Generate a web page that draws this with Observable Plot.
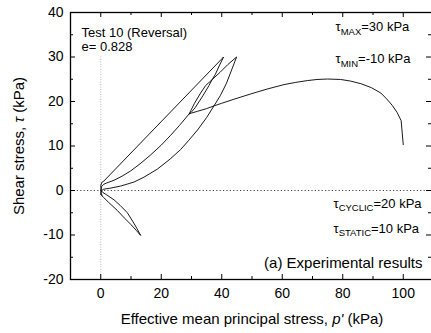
<!DOCTYPE html>
<html><head><meta charset="utf-8">
<script src="https://cdn.jsdelivr.net/npm/d3@7"></script>
<script src="https://cdn.jsdelivr.net/npm/@observablehq/plot@0.6"></script>
<style>
html,body{margin:0;padding:0;background:#fff;}
#chart svg{display:block;}
</style></head><body><div id="chart"></div>
<script>
// ---- data (p' in kPa, tau in kPa) ----
const firstLoadP   = [100, 99.3, 98, 96.4, 94.5, 92.6, 89.5, 86, 82.5, 79.3, 75, 71.5, 68.3, 64.5, 60.6, 55, 49.6, 44, 40, 37.4, 35, 32, 30, 29.2];
const firstLoadTau = [10.3, 15.7, 17.5, 19.1, 20.6, 21.9, 23.1, 24, 24.6, 24.95, 25.05, 24.95, 24.7, 24.3, 23.8, 22.8, 21.7, 20.5, 19.6, 19.0, 18.4, 17.8, 17.4, 17.2];
const loopUpP   = [29.2, 29.8, 31, 33, 34.7, 36.8, 39.5, 42, 44.9];
const loopUpTau = [17.2, 18, 19.6, 21.9, 23.6, 24.9, 26.6, 28.3, 30];
const lowerP   = [44.9, 43.5, 41.5, 39.5, 37.5, 35, 32, 29, 26.4, 23, 18.7, 14.3, 11, 6.6, 3, 1, 0.3, 0, 0];
const lowerTau = [30, 27.5, 24, 21.3, 19.1, 16.4, 13.6, 11.2, 9.2, 7.1, 4.8, 3.0, 1.9, 1.0, 0.5, 0.3, 0, -0.6, -0.9];
const negLoopP   = [0, 0.4, 1, 2.5, 5.5, 8, 9.9, 11.8, 13.2, 12, 11, 8.8, 6.5, 4.4, 2, 0.6, 0.1, 0.2];
const negLoopTau = [-0.9, -1.2, -1.6, -2.6, -4.5, -6.3, -7.6, -9, -10.1, -8.6, -7.4, -5, -3.4, -2.1, -1, -0.4, 0, 0.3];
const straightP   = [0.2, 0, 0.3, 1, 40.6];
const straightTau = [0.3, 1, 1.8, 2.1, 30];
const loopDownP   = [40.6, 39.3, 37.8, 36.8, 35.8, 33.5, 31.2, 29.8, 29.2];
const loopDownTau = [30, 28.2, 26, 24.9, 23.6, 21, 18.6, 17.5, 17.2];
const middleP   = [29.2, 26, 23.1, 20, 16.5, 13, 9.9, 7, 4.4, 2, 1, 0.3, 0, 0.1, 0.4];
const middleTau = [17.2, 14.6, 12.4, 10.2, 8, 6, 4.4, 3.2, 2.3, 1.7, 1.4, 0.9, 0.2, -0.5, -1.1];

const xDomain = [-10, 110];
const yDomain = [-20, 40];
const xMajor = [0, 20, 40, 60, 80, 100];
const xMinor = [10, 30, 50, 70, 90, 110];
const yMajor = [-20, -10, 0, 10, 20, 30, 40];
const yMinor = [-15, -5, 5, 15, 25, 35];
const zeroLine = [0];
const vLineRange = [30, -20];

const labels = {
  test: "Test 10 (Reversal)",
  e: "e= 0.828",
  tmax: "τ_{MAX}=30 kPa",
  tmin: "τ_{MIN}=-10 kPa",
  tcyc: "τ_{CYCLIC}=20 kPa",
  tstat: "τ_{STATIC}=10 kPa",
  panel: "(a) Experimental results",
  xLabel: "Effective mean principal stress, *p'* (kPa)",
  yLabel: "Shear stress, *τ* (kPa)"
};

// ---- build table ----
const segs = [[firstLoadP, firstLoadTau], [loopUpP, loopUpTau], [lowerP, lowerTau], [negLoopP, negLoopTau],
              [straightP, straightTau], [loopDownP, loopDownTau], [middleP, middleTau]];
const rows = [];
segs.forEach(([P, T]) => P.forEach((p, i) => rows.push({p, tau: T[i]})));

const W = 431, H = 333, mL = 70, mR = -2, mT = 12, mB = 54;
const innerW = W - mL - mR, innerH = H - mT - mB;
const majLen = 5, minLen = 3;

const chart = Plot.plot({
  width: W, height: H,
  marginLeft: mL, marginRight: mR, marginTop: mT, marginBottom: mB,
  style: {fontFamily: "'Liberation Sans', Arial, sans-serif", fontSize: "14px", background: "#fff", color: "#000"},
  x: {domain: xDomain, label: null},
  y: {domain: yDomain, label: null},
  marks: [
    Plot.ruleY(zeroLine, {y: d => d, stroke: "#444", strokeDasharray: "1.2,2.2", strokeWidth: 1}),
    Plot.ruleX(zeroLine, {x: d => d, y1: vLineRange[0], y2: vLineRange[1], stroke: "#bbb", strokeDasharray: "1,1.5", strokeWidth: 1}),
    Plot.line(rows, {x: "p", y: "tau", stroke: "#000", strokeWidth: 0.9, strokeLinejoin: "round"}),
    Plot.frame({stroke: "#000", strokeWidth: 1.3}),
    // inward ticks
    Plot.tickX(xMajor, {x: d => d, insetTop: innerH - majLen, stroke: "#000"}),
    Plot.tickX(xMinor, {x: d => d, insetTop: innerH - minLen, stroke: "#000"}),
    Plot.tickX(xMajor, {x: d => d, insetBottom: innerH - majLen, stroke: "#000"}),
    Plot.tickX(xMinor, {x: d => d, insetBottom: innerH - minLen, stroke: "#000"}),
    Plot.tickY(yMajor, {y: d => d, insetRight: innerW - majLen, stroke: "#000"}),
    Plot.tickY(yMinor, {y: d => d, insetRight: innerW - minLen, stroke: "#000"}),
    Plot.tickY(yMajor, {y: d => d, insetLeft: innerW - majLen - 2, stroke: "#000"}),
    Plot.tickY(yMinor, {y: d => d, insetLeft: innerW - minLen - 2, stroke: "#000"}),
    Plot.axisX({ticks: xMajor, tickSize: 0, tickPadding: 9, tickFormat: d => `${d}`, label: null, fontSize: 14}),
    Plot.axisY({ticks: yMajor, tickSize: 0, tickPadding: 7, tickFormat: d => `${d}`, label: null, fontSize: 14}),
    // annotations
    Plot.text([labels.test], {frameAnchor: "top-left", dx: 11, dy: 24, textAnchor: "start", lineAnchor: "bottom", fontSize: 13}),
    Plot.text([labels.e], {frameAnchor: "top-left", dx: 11, dy: 38.5, textAnchor: "start", lineAnchor: "bottom", fontSize: 13}),
    Plot.text([labels.tmax], {frameAnchor: "top-right", dx: -98, dy: 18.5, textAnchor: "start", lineAnchor: "bottom", fontSize: 13}),
    Plot.text([labels.tmin], {frameAnchor: "top-right", dx: -98, dy: 50.5, textAnchor: "start", lineAnchor: "bottom", fontSize: 13}),
    Plot.text([labels.tcyc], {frameAnchor: "bottom-right", dx: -100, dy: -72, textAnchor: "start", lineAnchor: "bottom", fontSize: 13}),
    Plot.text([labels.tstat], {frameAnchor: "bottom-right", dx: -100, dy: -47, textAnchor: "start", lineAnchor: "bottom", fontSize: 13}),
    Plot.text([labels.panel], {frameAnchor: "bottom-right", dx: -11, dy: -12, textAnchor: "end", lineAnchor: "bottom", fontSize: 15}),
    Plot.text([labels.xLabel], {frameAnchor: "bottom", dy: 44, textAnchor: "middle", lineAnchor: "bottom", fontSize: 15}),
    Plot.text([labels.yLabel], {frameAnchor: "left", dx: -51, rotate: -90, textAnchor: "middle", lineAnchor: "middle", fontSize: 15})
  ]
});

// rich text: _{sub} and *italic*
d3.select(chart).selectAll("text").each(function () {
  const s = this.textContent;
  if (!/_\{|\*/.test(s)) return;
  const parts = s.split(/(_\{[^}]*\}|\*[^*]*\*)/).filter(Boolean);
  this.textContent = "";
  const sel = d3.select(this);
  let shifted = false;
  for (const part of parts) {
    if (part.startsWith("_{")) {
      sel.append("tspan").attr("dy", "3.5").attr("font-size", "9.5px").text(part.slice(2, -1));
      shifted = true;
    } else {
      const t = sel.append("tspan");
      if (shifted) { t.attr("dy", "-3.5"); shifted = false; }
      if (part.startsWith("*")) t.attr("font-style", "italic").text(part.slice(1, -1));
      else t.text(part);
    }
  }
});

document.getElementById("chart").append(chart);
</script>
</body></html>
